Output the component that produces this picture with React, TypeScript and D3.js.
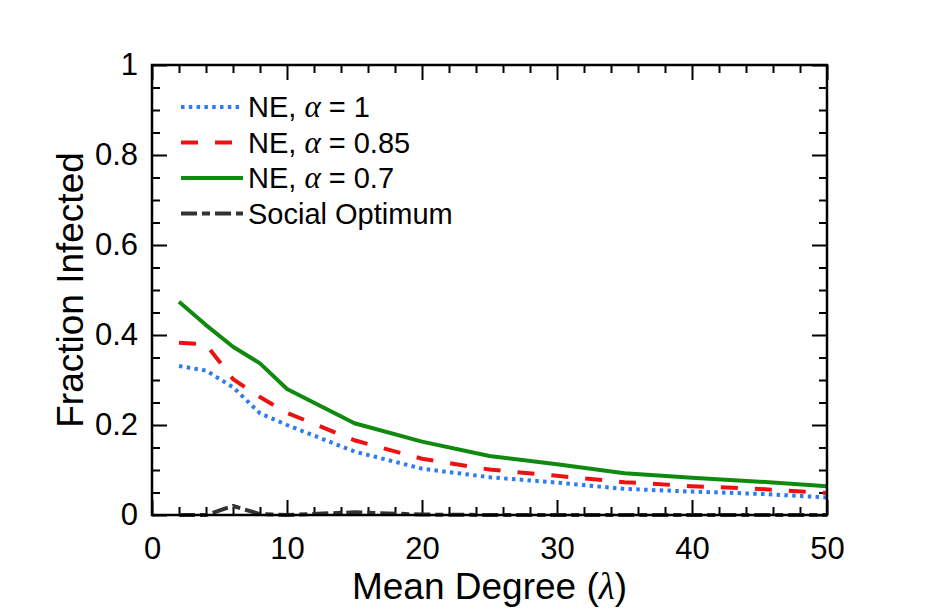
import React, { useEffect, useRef } from "react";
import * as d3 from "d3";

// mean degree of the network
const degree = [2, 4, 6, 8, 10, 15, 20, 25, 30, 35, 40, 45, 50];

// fraction infected per strategy
const neAlpha1 = [0.331, 0.321, 0.284, 0.226, 0.2, 0.141, 0.103, 0.084, 0.072, 0.058, 0.052, 0.047, 0.039];
const neAlpha085 = [0.383, 0.379, 0.302, 0.262, 0.227, 0.166, 0.125, 0.101, 0.087, 0.073, 0.064, 0.058, 0.049];
const neAlpha07 = [0.474, 0.422, 0.374, 0.337, 0.28, 0.204, 0.163, 0.131, 0.113, 0.093, 0.083, 0.074, 0.064];
const socialOptimum = [0, 0, 0.02, 0.002, 0, 0.006, 0.001, 0, 0, 0, 0, 0, 0];

const xTicks = [0, 10, 20, 30, 40, 50];
const yTicks = [0, 0.2, 0.4, 0.6, 0.8, 1];

const series = [
  { name: "NE, ", alpha: "1", values: neAlpha1, color: "#2f7bf0", dash: "3.5,4.3" },
  { name: "NE, ", alpha: "0.85", values: neAlpha085, color: "#ee1111", dash: "17,17" },
  { name: "NE, ", alpha: "0.7", values: neAlpha07, color: "#0f8a0f", dash: null },
  { name: "Social Optimum", alpha: null, values: socialOptimum, color: "#333333", dash: "16,5,8,5" },
];

const font = "'Liberation Sans', Arial, Helvetica, sans-serif";
const serif = "'Liberation Serif', 'Times New Roman', serif";

export default function App() {
  const svgRef = useRef<SVGSVGElement>(null);

  useEffect(() => {
    const width = 938;
    const height = 613;
    const left = 152, right = 827, top = 65, bottom = 515;

    const svg = d3.select(svgRef.current).attr("width", width).attr("height", height);
    svg.selectAll("*").remove();

    const x = d3.scaleLinear().domain([0, 50]).range([left, right]);
    const y = d3.scaleLinear().domain([0, 1]).range([bottom, top]);

    // minor ticks on all four sides, pointing inward
    const xMinor = d3.range(0, 51, 2).filter((d) => d % 10 !== 0);
    const yMinor = d3.range(0, 1.001, 0.05).filter((d) => Math.abs(d * 5 - Math.round(d * 5)) > 1e-6);

    const styleAxis = (g) => {
      g.select(".domain").remove();
      g.selectAll("line").attr("stroke", "#000").attr("stroke-width", 2);
      g.selectAll("text").attr("font-family", font).attr("font-size", 31).attr("fill", "#000");
    };

    svg.append("g").attr("transform", `translate(0,${bottom})`)
      .call(d3.axisBottom(x).tickValues(xMinor).tickSizeInner(-8).tickSizeOuter(0).tickFormat(() => ""))
      .call(styleAxis);
    svg.append("g").attr("transform", `translate(0,${top})`)
      .call(d3.axisTop(x).tickValues(xMinor).tickSizeInner(-8).tickSizeOuter(0).tickFormat(() => ""))
      .call(styleAxis);
    svg.append("g").attr("transform", `translate(${left},0)`)
      .call(d3.axisLeft(y).tickValues(yMinor).tickSizeInner(-8).tickSizeOuter(0).tickFormat(() => ""))
      .call(styleAxis);
    svg.append("g").attr("transform", `translate(${right},0)`)
      .call(d3.axisRight(y).tickValues(yMinor).tickSizeInner(-8).tickSizeOuter(0).tickFormat(() => ""))
      .call(styleAxis);

    // major ticks with labels
    svg.append("g").attr("transform", `translate(0,${bottom})`)
      .call(d3.axisBottom(x).tickValues(xTicks).tickSizeInner(-15).tickSizeOuter(0).tickPadding(22).tickFormat(d3.format("d")))
      .call(styleAxis);
    svg.append("g").attr("transform", `translate(0,${top})`)
      .call(d3.axisTop(x).tickValues(xTicks).tickSizeInner(-15).tickSizeOuter(0).tickFormat(() => ""))
      .call(styleAxis);
    svg.append("g").attr("transform", `translate(${left},0)`)
      .call(d3.axisLeft(y).tickValues(yTicks).tickSizeInner(-15).tickSizeOuter(0).tickPadding(14).tickFormat((d) => String(d)))
      .call(styleAxis);
    svg.append("g").attr("transform", `translate(${right},0)`)
      .call(d3.axisRight(y).tickValues(yTicks).tickSizeInner(-15).tickSizeOuter(0).tickFormat(() => ""))
      .call(styleAxis);

    // lines
    const line = d3.line<number>()
      .x((d, i) => x(degree[i]))
      .y((d) => y(d));

    series.forEach((s) => {
      svg.append("path")
        .datum(s.values)
        .attr("d", line)
        .attr("fill", "none")
        .attr("stroke", s.color)
        .attr("stroke-width", 4)
        .attr("stroke-dasharray", s.dash)
        .attr("stroke-linejoin", "round");
    });

    // plot box
    svg.append("rect")
      .attr("x", left).attr("y", top)
      .attr("width", right - left).attr("height", bottom - top)
      .attr("fill", "none").attr("stroke", "#000").attr("stroke-width", 2.5);

    // legend
    const legend = svg.append("g");
    series.forEach((s, i) => {
      const ly = 107 + i * 35.5;
      legend.append("line")
        .attr("x1", 181).attr("x2", 243).attr("y1", ly).attr("y2", ly)
        .attr("stroke", s.color).attr("stroke-width", 4)
        .attr("stroke-dasharray", s.dash);
      const t = legend.append("text")
        .attr("x", 248).attr("y", ly + 10)
        .attr("font-family", font).attr("font-size", 29).attr("fill", "#000");
      t.append("tspan").text(s.name);
      if (s.alpha) {
        t.append("tspan")
          .attr("font-family", serif)
          .attr("font-style", "italic").attr("font-size", 31)
          .text("α");
        t.append("tspan").text(` = ${s.alpha}`);
      }
    });

    // axis titles
    const xt = svg.append("text")
      .attr("x", (left + right) / 2).attr("y", 599)
      .attr("text-anchor", "middle")
      .attr("font-family", font).attr("font-size", 37).attr("fill", "#000");
    xt.append("tspan").text("Mean Degree (");
    xt.append("tspan")
      .attr("font-family", serif)
      .attr("font-style", "italic").text("λ");
    xt.append("tspan").text(")");

    svg.append("text")
      .attr("transform", `translate(83,${(top + bottom) / 2}) rotate(-90)`)
      .attr("text-anchor", "middle")
      .attr("font-family", font).attr("font-size", 37).attr("fill", "#000")
      .text("Fraction Infected");
  }, []);

  return (
    <div style={{ position: "absolute", left: 0, top: 0 }}>
      <svg ref={svgRef} style={{ display: "block" }}></svg>
    </div>
  );
}
